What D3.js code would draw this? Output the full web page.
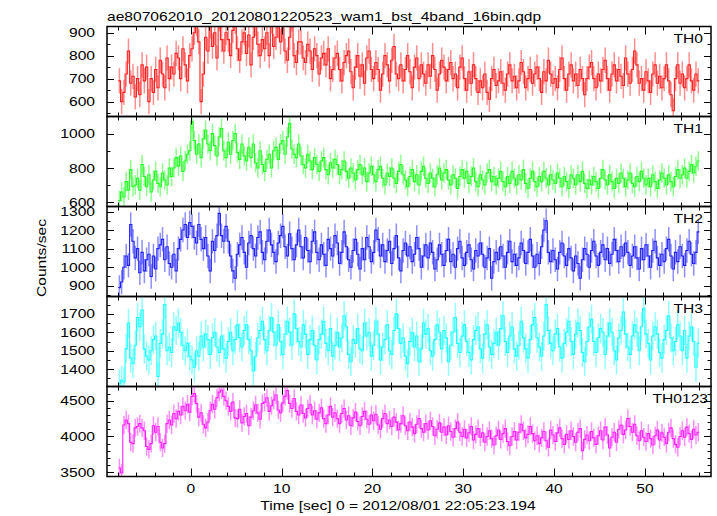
<!DOCTYPE html>
<html><head><meta charset="utf-8">
<script src="https://cdn.jsdelivr.net/npm/d3@7"></script>
<style>body{margin:0;background:#fff}svg{display:block}</style>
</head><body>
<svg id="c" width="717" height="516"></svg>
<script>
// ---- data (0.25 s bins starting at t = -8 s) ----
const binStart = -8, binWidth = 0.25;
const TH0 = [
690,600,640,720,820,680,710,620, 700,630,760,690,750,600,700,640,
740,660,780,720,660,790,700,750, 720,810,790,700,830,760,690,800,
830,900,940,860,600,720,880,820, 930,840,900,790,960,870,820,900,
870,800,910,950,830,780,860,900, 810,890,760,880,940,850,800,870,
830,900,800,950,840,880,930,860, 920,820,780,880,960,800,770,860,
860,790,770,850,820,740,830,800, 720,790,810,760,830,700,740,790,
810,740,690,770,800,820,730,660, 750,800,710,760,680,790,820,740,
700,770,740,650,720,800,760,690, 780,840,720,700,760,690,740,800,
730,660,750,790,700,760,720,680, 760,710,800,740,650,720,780,750,
690,740,770,700,720,660,750,790, 700,650,730,680,760,700,640,690,
660,720,640,610,700,740,670,690, 730,680,650,720,760,690,710,660,
690,770,730,660,700,740,680,720, 750,700,640,730,690,780,720,680,
700,660,740,790,700,650,720,760, 690,720,670,740,700,630,700,750,
770,700,660,720,690,740,780,700, 650,720,760,690,740,710,670,790,
720,680,740,820,760,680,700,650, 730,690,640,720,760,680,710,660,
700,760,690,630,560,700,760,680, 720,660,700,760,690,650,720,690];
const TH1 = [
610,660,630,720,670,790,690,700, 740,670,820,750,690,760,660,730,
780,710,690,770,730,700,800,750, 800,860,810,870,780,840,880,900,
1070,960,880,940,860,970,1020,940, 900,1000,930,870,980,1030,900,860,
950,880,960,1000,890,850,940,870, 840,920,860,940,830,800,900,820,
780,850,880,800,900,920,850,940, 960,880,980,1060,910,880,860,940,
870,820,800,880,840,790,860,820, 780,840,860,790,760,830,800,850,
820,760,790,840,780,740,800,770, 730,790,820,760,800,720,770,810,
760,720,790,810,740,700,770,750, 800,740,710,780,820,760,730,690,
750,790,720,760,700,780,810,740, 710,770,740,690,760,800,730,770,
790,730,700,760,740,680,750,790, 740,780,710,750,800,720,690,760,
730,700,770,790,720,750,700,740, 780,720,690,750,710,780,740,700,
760,730,790,710,680,740,780,720, 690,750,720,780,740,700,760,730,
710,770,740,690,750,720,680,760, 740,700,760,720,780,710,680,730,
700,750,720,680,740,790,730,700, 760,720,680,740,710,770,740,690,
730,770,710,690,750,720,780,740, 700,740,690,760,720,680,730,770,
740,700,760,720,690,750,790,740, 760,800,740,780,820,770,810,840];
const TH2 = [
890,920,1000,1060,1010,1230,1140,1050, 1100,970,1080,980,1040,1070,950,1060,
990,1100,1120,1150,1040,1110,1020,1000, 1070,980,1100,1150,1200,1230,1160,1240,
1220,1160,1130,1230,1150,1100,1160,1060, 980,1140,1090,1170,1290,1170,1140,1220,
1140,1060,980,940,1070,1120,1160,1080, 1000,1130,1170,1100,1060,1160,1190,1080,
1040,1140,1200,1120,1080,1030,1130,1170, 1220,1110,1060,1180,1100,1040,1120,1200,
1110,1050,1160,1090,1030,1140,1190,1080, 1040,1120,1070,1010,1150,1100,1060,1170,
1130,1020,1080,1190,1110,1040,1000,1090, 1150,1070,990,1100,1040,1160,1110,1030,
1080,1200,1150,1060,1120,1030,1090,1140, 1020,1100,1170,1050,980,1090,1130,1060,
1110,1030,1070,1160,1100,1000,1060,1120, 1050,1130,1080,990,1040,1120,1070,1010,
1090,1150,1030,1070,1000,1100,1140,1050, 1010,1080,1120,1040,990,1090,1060,1130,
1070,1000,1050,1100,940,1030,1080,1040, 1110,1060,1000,1080,1140,1030,1070,1010,
1050,1130,1090,1020,1080,1150,1060,1000, 1070,1020,1110,1200,1250,1080,1030,1090,
1040,990,1080,1130,1060,1010,1100,1050, 980,1060,1020,940,1040,1100,1070,1000,
1090,1140,1060,1010,1080,1120,1040,1100, 1020,1070,1150,1090,1030,1110,1060,1130,
1080,1010,1060,1110,1050,990,1100,1040, 1120,1060,1000,1090,1140,1050,1010,1070,
1030,1100,1150,1060,990,1080,1030,1110, 1060,1010,1090,1140,1070,1020,1080,1190];
const TH3 = [
1320,1340,1330,1510,1650,1460,1430,1530, 1680,1630,1720,1510,1470,1450,1500,1560,
1580,1360,1540,1590,1750,1500,1520,1490, 1630,1610,1650,1600,1530,1500,1540,1470,
1450,1410,1500,1470,1580,1520,1590,1560, 1480,1570,1600,1520,1490,1580,1510,1460,
1550,1600,1500,1560,1640,1570,1520,1610, 1640,1560,1500,1390,1470,1570,1610,1660,
1560,1500,1610,1680,1600,1530,1640,1550, 1480,1590,1660,1600,1530,1700,1620,1550,
1520,1640,1590,1480,1560,1610,1530,1450, 1560,1590,1660,1540,1500,1620,1470,1530,
1600,1520,1570,1690,1630,1480,1440,1560, 1540,1620,1510,1500,1650,1580,1600,1470,
1530,1660,1590,1450,1520,1560,1640,1500, 1480,1610,1700,1620,1540,1570,1470,1430,
1550,1600,1520,1580,1440,1510,1650,1590, 1620,1500,1470,1560,1640,1600,1510,1610,
1570,1440,1530,1600,1680,1540,1490,1580, 1640,1550,1490,1450,1560,1610,1630,1510,
1460,1590,1640,1520,1480,1540,1600,1530, 1620,1690,1550,1490,1580,1630,1510,1470,
1530,1660,1570,1510,1460,1560,1640,1680, 1570,1520,1470,1580,1750,1610,1540,1500,
1590,1620,1520,1460,1540,1600,1660,1550, 1480,1590,1650,1610,1490,1440,1550,1630,
1670,1550,1490,1570,1620,1600,1480,1580, 1650,1600,1500,1450,1570,1610,1710,1590,
1520,1480,1580,1640,1600,1500,1630,1730, 1590,1540,1450,1580,1630,1590,1490,1460,
1560,1610,1690,1570,1500,1550,1640,1580, 1500,1610,1460,1580,1630,1550,1410,1540];
const TH0123 = [
3560,3490,4160,4230,4180,3920,3900,4120, 4140,4180,4120,4080,3860,3820,3900,4150,
4060,4140,3920,3840,3900,4180,4230,4160, 4320,4250,4350,4300,4420,4360,4450,4340,
4560,4600,4460,4270,4330,4170,4120,4200, 4360,4450,4380,4540,4620,4650,4560,4500,
4420,4350,4480,4260,4250,4380,4190,4280, 4320,4150,4270,4360,4440,4330,4240,4460,
4480,4540,4350,4430,4510,4580,4370,4330, 4470,4560,4640,4460,4390,4530,4350,4300,
4440,4320,4260,4390,4450,4300,4360,4240, 4330,4400,4250,4180,4300,4420,4270,4330,
4250,4180,4320,4390,4230,4290,4150,4260, 4340,4210,4150,4280,4350,4240,4170,4300,
4220,4310,4160,4100,4250,4320,4180,4230, 4140,4270,4200,4090,4180,4290,4150,4080,
4200,4130,4040,4170,4250,4110,4060,4180, 4090,4220,4140,4010,4100,4190,4060,4130,
4020,4150,4070,3990,4110,4200,4060,4000, 4100,3980,4050,4140,3950,4030,4110,3990,
4050,3920,4000,4080,3970,3880,4010,4090, 3960,4040,4110,3930,3870,4000,4070,3950,
4060,4170,4080,3980,4030,4140,4040,3940, 4010,3900,3980,4070,3940,3850,4090,4020,
3930,4050,4120,3970,3890,4030,3960,4080, 4000,3920,4060,4110,3800,3960,4020,3940,
4070,3980,3890,4010,4080,3950,4130,4020, 3840,3990,4060,3920,4100,4160,4030,4090,
4250,4140,4060,4170,4010,3940,4080,3990, 3930,4040,3970,3880,4010,4090,3950,4050,
3990,3900,4060,4120,3970,3890,3850,4000, 4080,3990,4130,4040,3960,4100,4020,4060];
const seriesNames = ["TH0", "TH1", "TH2", "TH3", "TH0123"];
const seriesValues = [TH0, TH1, TH2, TH3, TH0123];
const seriesErrors = [55, 57, 66, 79, 128];           // typical 1-sigma error per bin
const yRanges = [[535, 927], [575, 1100], [842, 1327], [1306, 1794], [3441, 4698]];
const yTickLabels = [[600, 700, 800, 900], [600, 800, 1000], [900, 1000, 1100, 1200, 1300],
                     [1400, 1500, 1600, 1700], [3500, 4000, 4500]];
const yMinorStep = [50, 100, 50, 50, 100];
const xTickLabels = [0, 10, 20, 30, 40, 50];
const xMinorStep = 2;
const titleText = "ae807062010_20120801220523_wam1_bst_4band_16bin.qdp";
const xTitle = "Time [sec] 0 = 2012/08/01 22:05:23.194";
const yTitle = "Counts/sec";

// ---- layout / style ----
const colors = ["#ff2020", "#20ff20", "#2020ff", "#20ffff", "#ff20ff"];
const L = 107, R = 711, top0 = 26.5, ph = 90;
const FONT = "'Liberation Sans', Arial, Helvetica, sans-serif";
const svg = d3.select("#c");
const x = d3.scaleLinear().domain([-9.24, 57.28]).range([L, R]);
const times = d3.range(TH0.length).map(i => binStart + i * binWidth);

function stext(g, px, py, str, anchor, rot) {
  const gg = g.append("g").attr("transform",
    `translate(${px},${py})${rot ? ` rotate(${rot})` : ""} scale(1.2,1)`);
  return gg.append("text").attr("x", 0).attr("y", 0)
    .attr("text-anchor", anchor).attr("font-family", FONT)
    .attr("font-size", 13).attr("fill", "#000").text(str);
}

const defs = svg.append("defs");
const labelX = [703, 703, 703, 703, 708];

seriesValues.forEach((vals, k) => {
  const pt = top0 + k * ph, pb = pt + ph;
  const y = d3.scaleLinear().domain(yRanges[k]).range([pb, pt]);
  const g = svg.append("g");
  defs.append("clipPath").attr("id", "clip" + k).append("rect")
    .attr("x", L).attr("y", pt).attr("width", R - L).attr("height", ph);
  const dg = g.append("g").attr("clip-path", `url(#clip${k})`);
  const err = seriesErrors[k];
  // error bars
  dg.append("g").selectAll("line").data(vals).join("line")
    .attr("x1", (d, i) => x(times[i] + binWidth / 2))
    .attr("x2", (d, i) => x(times[i] + binWidth / 2))
    .attr("y1", d => y(d - err)).attr("y2", d => y(d + err))
    .attr("stroke", colors[k]).attr("stroke-width", 1.5).attr("stroke-opacity", 0.5);
  // step line
  const pts = [];
  vals.forEach((v, i) => { pts.push([times[i], v]); pts.push([times[i] + binWidth, v]); });
  dg.append("path").attr("d", d3.line().x(d => x(d[0])).y(d => y(d[1]))(pts))
    .attr("fill", "none").attr("stroke", colors[k]).attr("stroke-width", 1.1);

  // y ticks (left & right)
  const yminor = d3.range(Math.ceil(yRanges[k][0] / yMinorStep[k]) * yMinorStep[k],
                          yRanges[k][1], yMinorStep[k]);
  const tg = g.append("g").attr("stroke", "#000").attr("stroke-width", 1);
  yminor.forEach(v => {
    const major = yTickLabels[k].includes(v);
    const len = major ? 7 : 3.5;
    const yy = Math.round(y(v)) + 0.5;
    tg.append("line").attr("x1", L).attr("x2", L + len).attr("y1", yy).attr("y2", yy);
    tg.append("line").attr("x1", R).attr("x2", R - len).attr("y1", yy).attr("y2", yy);
  });
  // x ticks (top & bottom)
  d3.range(-8, 57, xMinorStep).forEach(t => {
    const major = xTickLabels.includes(t);
    const len = major ? 8 : 4;
    const xx = Math.round(x(t)) + 0.5;
    tg.append("line").attr("x1", xx).attr("x2", xx).attr("y1", pt).attr("y2", pt + len);
    tg.append("line").attr("x1", xx).attr("x2", xx).attr("y1", pb).attr("y2", pb - len);
  });
  // frame
  g.append("rect").attr("x", L).attr("y", pt).attr("width", R - L).attr("height", ph)
    .attr("fill", "none").attr("stroke", "#000").attr("stroke-width", 1.5);
  // y tick labels
  yTickLabels[k].forEach(v => stext(g, 95, y(v) + 4.6, String(v), "end"));
  // panel label
  stext(g, labelX[k], pt + 16.5, seriesNames[k], "end");
  if (k === seriesValues.length - 1) {
    xTickLabels.forEach(t => stext(g, x(t), 492.5, String(t), "middle"));
  }
});

stext(svg, L, 20.5, titleText, "start");
stext(svg, 398, 510, xTitle, "middle");
stext(svg, 46, 258, yTitle, "middle", -90);
</script>
</body></html>
